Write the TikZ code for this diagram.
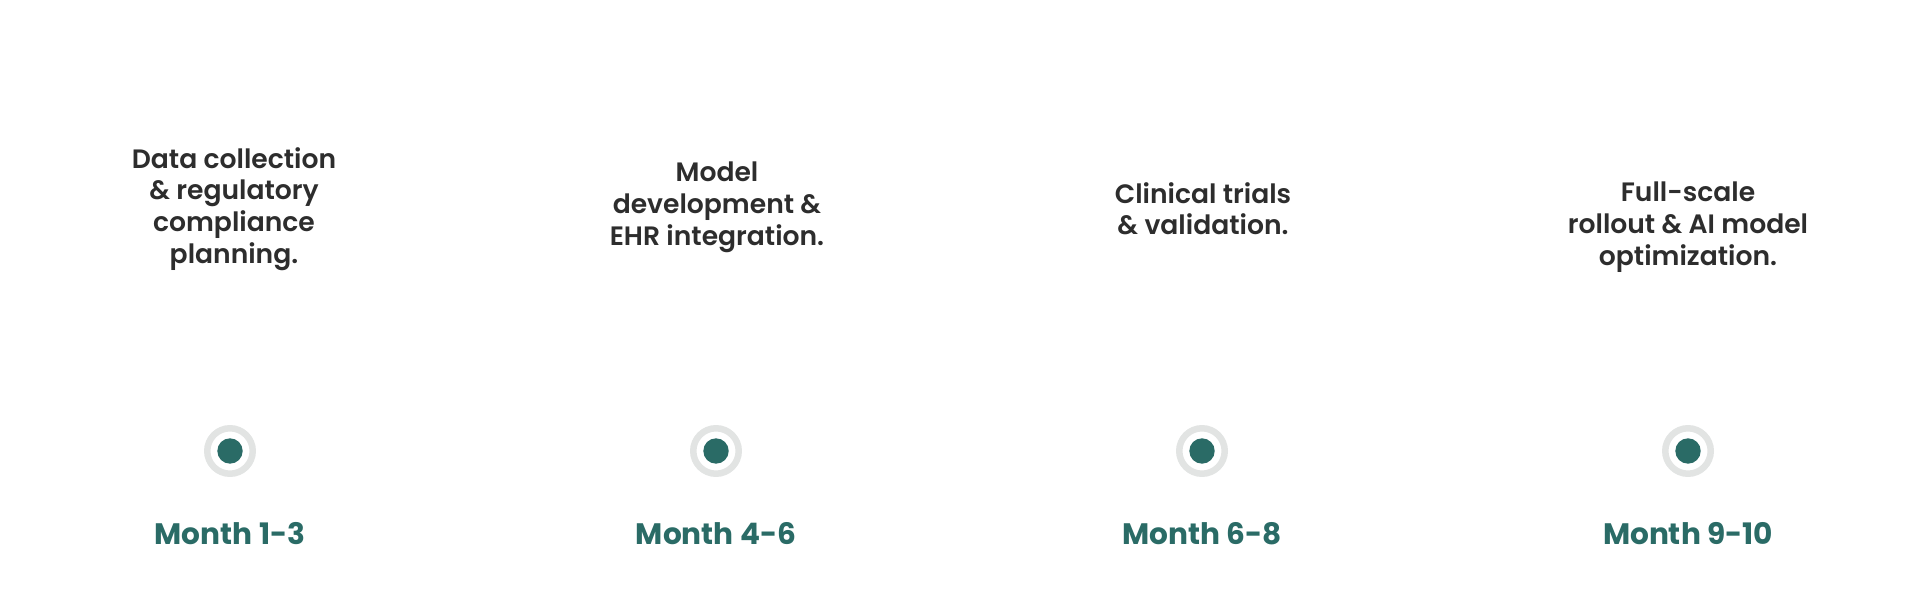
\documentclass[tikz,border=0pt]{standalone}
\usepackage{fontspec}
\setmainfont{Poppins}[UprightFont=* SemiBold,BoldFont=* Bold]
\usetikzlibrary{positioning}
\definecolor{teal}{HTML}{2A6B66}
\definecolor{ringgray}{HTML}{E2E4E3}
\definecolor{ink}{HTML}{2D2D2D}

\begin{document}
\begin{tikzpicture}
                [x=1pt,y=1pt,node distance=45pt,
                ring/.style={circle,draw=ringgray,line width=6.5pt,fill=white,minimum size=45.5pt,inner sep=0pt},
                dot/.style={circle,fill=teal,minimum size=25.4pt,inner sep=0pt},
                desc/.style={align=center,anchor=north,inner sep=0pt,text=ink,font=\fontsize{26.6}{31.7}\selectfont},
                month/.style={inner sep=0pt,text=teal,font=\bfseries\fontsize{29.6}{34}\selectfont}]
                \useasboundingbox (0,0) rectangle (1920,611);
                \node[ring] (r1) at (230,160){};
                \node[dot] (d1) at (r1){};
                \node[month] (m1)[below=of r1]{Month 1-3};
                \node[desc] (t1) at (234,464){Data collection\\\& regulatory\\compliance\\planning.};
                \node[ring] (r2) at (716,160){};
                \node[dot] (d2) at (r2){};
                \node[month] (m2)[below=of r2]{Month 4-6};
                \node[desc] (t2) at (717,449){Model\\development \&\\EHR integration.};
                \node[ring] (r3) at (1202,160){};
                \node[dot] (d3) at (r3){};
                \node[month] (m3)[below=of r3]{Month 6-8};
                \node[desc] (t3) at (1203,429){Clinical trials\\\& validation.};
                \node[ring] (r4) at (1688,160){};
                \node[dot] (d4) at (r4){};
                \node[month] (m4)[below=of r4]{Month 9-10};
                \node[desc] (t4) at (1688,429){Full-scale\\rollout \& AI model\\optimization.};
            \end{tikzpicture}
\end{document}
